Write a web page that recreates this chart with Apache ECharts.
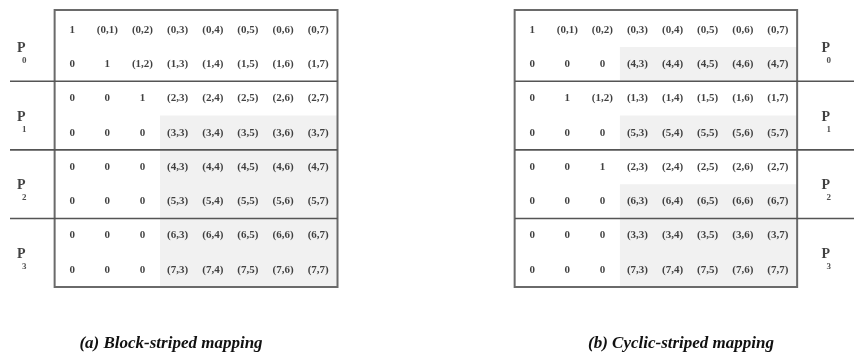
<!DOCTYPE html>
<html>
<head>
<meta charset="utf-8">
<script src="https://cdn.jsdelivr.net/npm/echarts@6/dist/echarts.min.js"></script>
<style>
html, body { margin: 0; padding: 0; background: #fff; }
#chart { width: 854px; height: 356px; }
</style>
</head>
<body>
<div id="chart"></div>
<script>
// matrix entries, row by row, as printed
var leftRows = [
  ['1', '(0,1)', '(0,2)', '(0,3)', '(0,4)', '(0,5)', '(0,6)', '(0,7)'],
  ['0', '1', '(1,2)', '(1,3)', '(1,4)', '(1,5)', '(1,6)', '(1,7)'],
  ['0', '0', '1', '(2,3)', '(2,4)', '(2,5)', '(2,6)', '(2,7)'],
  ['0', '0', '0', '(3,3)', '(3,4)', '(3,5)', '(3,6)', '(3,7)'],
  ['0', '0', '0', '(4,3)', '(4,4)', '(4,5)', '(4,6)', '(4,7)'],
  ['0', '0', '0', '(5,3)', '(5,4)', '(5,5)', '(5,6)', '(5,7)'],
  ['0', '0', '0', '(6,3)', '(6,4)', '(6,5)', '(6,6)', '(6,7)'],
  ['0', '0', '0', '(7,3)', '(7,4)', '(7,5)', '(7,6)', '(7,7)']
];
var rightRows = [
  ['1', '(0,1)', '(0,2)', '(0,3)', '(0,4)', '(0,5)', '(0,6)', '(0,7)'],
  ['0', '0', '0', '(4,3)', '(4,4)', '(4,5)', '(4,6)', '(4,7)'],
  ['0', '1', '(1,2)', '(1,3)', '(1,4)', '(1,5)', '(1,6)', '(1,7)'],
  ['0', '0', '0', '(5,3)', '(5,4)', '(5,5)', '(5,6)', '(5,7)'],
  ['0', '0', '1', '(2,3)', '(2,4)', '(2,5)', '(2,6)', '(2,7)'],
  ['0', '0', '0', '(6,3)', '(6,4)', '(6,5)', '(6,6)', '(6,7)'],
  ['0', '0', '0', '(3,3)', '(3,4)', '(3,5)', '(3,6)', '(3,7)'],
  ['0', '0', '0', '(7,3)', '(7,4)', '(7,5)', '(7,6)', '(7,7)']
];
var leftShadeRows = [3, 4, 5, 6, 7];
var rightShadeRows = [1, 3, 5, 6, 7];
var shadeFromCol = 3;
var partitions = ['0', '1', '2', '3'];
var partitionFirstRow = [0, 2, 4, 6];
var captions = ['(a) Block-striped mapping', '(b) Cyclic-striped mapping'];

var myChart = echarts.init(document.getElementById('chart'));

var SERIF = '"Liberation Serif", "DejaVu Serif", serif';
var boxX = [-0.5, 7.55];
var boxY = [-0.58, 7.5];
var axisDefs = [
  {xmin: -1.77, xmax: 7.55, left: 10, plabelX: -1.48, lineFrom: -1.77, lineTo: 7.55},
  {xmin: -0.49, xmax: 9.17, left: 515, plabelX: 8.34, lineFrom: -0.49, lineTo: 9.17}
];

function cellData(rows) {
  var out = [];
  rows.forEach(function (row, r) {
    row.forEach(function (txt, c) { out.push([c, r, txt]); });
  });
  return out;
}

function rectItem(params, api) {
  var p0 = api.coord([api.value(0), api.value(1)]);
  var p1 = api.coord([api.value(2), api.value(3)]);
  return {x0: p0[0], y0: p0[1], w: p1[0] - p0[0], h: p1[1] - p0[1]};
}

var grids = [], xAxes = [], yAxes = [], series = [];

axisDefs.forEach(function (d, i) {
  var width = (d.xmax - d.xmin) * 35.14;
  grids.push({left: d.left, top: 10, width: width, height: 277});
  xAxes.push({type: 'value', gridIndex: i, min: d.xmin, max: d.xmax, show: false});
  yAxes.push({type: 'value', gridIndex: i, min: boxY[0], max: boxY[1], inverse: true, show: false});

  var shadeRows = i === 0 ? leftShadeRows : rightShadeRows;
  // light grey shading of the lower blocks
  series.push({
    type: 'custom', xAxisIndex: i, yAxisIndex: i, silent: true, z: 1,
    data: shadeRows.map(function (r) { return [shadeFromCol - 0.5, r - 0.5, boxX[1], r + 0.5]; }),
    renderItem: function (params, api) {
      var b = rectItem(params, api);
      return {type: 'rect', shape: {x: b.x0, y: b.y0, width: b.w, height: b.h + 0.5},
        style: {fill: '#f1f1f1'}};
    }
  });
  // outer box
  series.push({
    type: 'custom', xAxisIndex: i, yAxisIndex: i, silent: true, z: 3,
    data: [[boxX[0], boxY[0], boxX[1], boxY[1]]],
    renderItem: function (params, api) {
      var b = rectItem(params, api);
      return {type: 'rect', shape: {x: b.x0, y: b.y0, width: b.w, height: b.h},
        style: {fill: 'none', stroke: '#6a6a6a', lineWidth: 2}};
    }
  });
  // partition separators
  series.push({
    type: 'custom', xAxisIndex: i, yAxisIndex: i, silent: true, z: 3,
    data: [1.5, 3.5, 5.5].map(function (y) { return [d.lineFrom, y, d.lineTo, y]; }),
    renderItem: function (params, api) {
      var p0 = api.coord([api.value(0), api.value(1)]);
      var p1 = api.coord([api.value(2), api.value(3)]);
      return {type: 'line', shape: {x1: p0[0], y1: p0[1], x2: p1[0], y2: p1[1]},
        style: {stroke: '#555', lineWidth: 1.6}};
    }
  });
  // matrix entries
  series.push({
    type: 'scatter', xAxisIndex: i, yAxisIndex: i, silent: true, z: 4,
    symbolSize: 1, itemStyle: {color: 'rgba(0,0,0,0)'},
    data: cellData(i === 0 ? leftRows : rightRows),
    label: {
      show: true, position: 'inside',
      formatter: function (p) { return p.data[2]; },
      fontFamily: SERIF, fontWeight: 'bold', fontSize: 11, color: '#111'
    },
    labelLayout: {hideOverlap: false}
  });
  // processor labels P with subscript
  series.push({
    type: 'scatter', xAxisIndex: i, yAxisIndex: i, silent: true, z: 4,
    symbolSize: 1, itemStyle: {color: 'rgba(0,0,0,0)'},
    data: partitions.map(function (p, k) { return [d.plabelX, partitionFirstRow[k] + 0.5, p]; }),
    label: {
      show: true, position: 'inside', offset: [1, 7],
      formatter: function (p) { return '{p|P}\n{s|' + p.data[2] + '}'; },
      rich: {
        p: {fontFamily: SERIF, fontWeight: 'bold', fontSize: 14, color: '#111', lineHeight: 14},
        s: {fontFamily: SERIF, fontWeight: 'bold', fontSize: 9, color: '#222', lineHeight: 11, padding: [0, 0, 0, 6]}
      }
    }
  });
});

var option = {
  animation: false,
  backgroundColor: '#fff',
  title: [
    {text: captions[0], left: 166, top: 330, textAlign: 'center',
      textStyle: {fontFamily: SERIF, fontStyle: 'italic', fontWeight: 'bold', fontSize: 17, color: '#111'}},
    {text: captions[1], left: 676, top: 330, textAlign: 'center',
      textStyle: {fontFamily: SERIF, fontStyle: 'italic', fontWeight: 'bold', fontSize: 17, color: '#111'}}
  ],
  grid: grids,
  xAxis: xAxes,
  yAxis: yAxes,
  series: series
};
myChart.setOption(option);
</script>
</body>
</html>
